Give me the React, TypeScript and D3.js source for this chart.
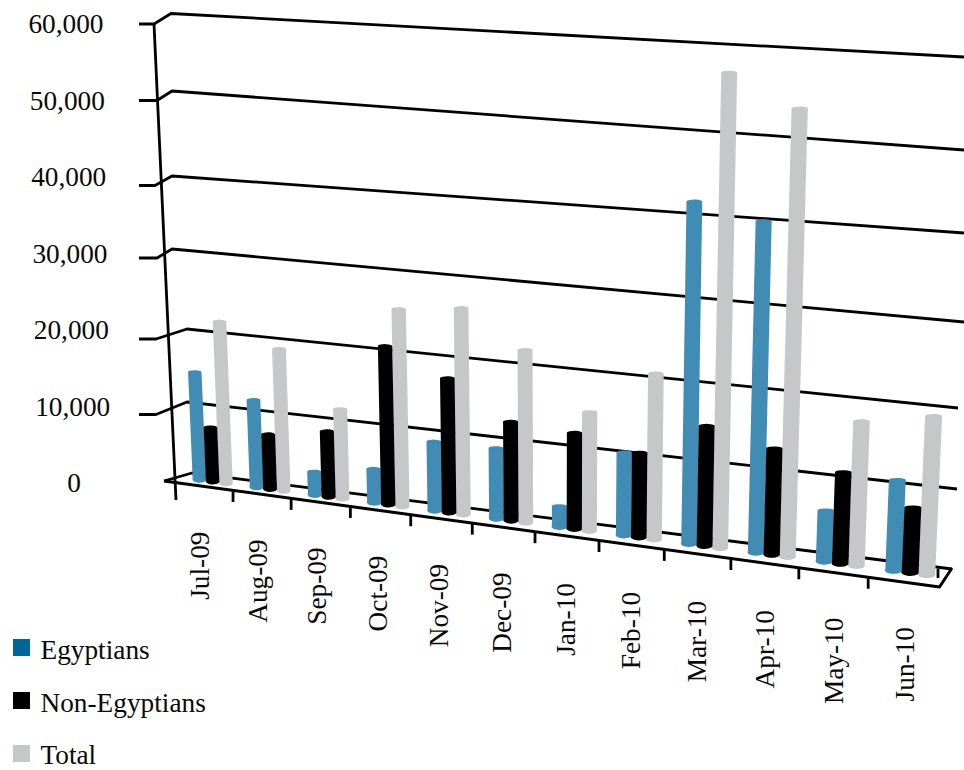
import React from "react";
import * as d3 from "d3";

const categories = ["Jul-09","Aug-09","Sep-09","Oct-09","Nov-09","Dec-09","Jan-10","Feb-10","Mar-10","Apr-10","May-10","Jun-10"];
const egyptians = [14900,12000,3100,4500,9200,9300,2600,10700,42200,40500,6300,11200];
const nonEgyptians = [7500,7500,8900,21100,17800,13000,12500,10900,15300,13400,11400,8000];
const total = [22000,19300,12100,25800,26700,22400,15400,21200,57500,54000,18000,19600];
const yTicks = [0,10000,20000,30000,40000,50000,60000];
const seriesNames = ["Egyptians","Non-Egyptians","Total"];
const barColors = ["#418cb4","#000000","#c6c7c9"];
const legendColors = ["#00669a","#000000","#c6c7c9"];

const W = 964, H = 770;
const FONT = "'Liberation Serif','Times New Roman',serif";

// Perspective geometry of the chart box
const frontLine = { x0: 164, y0: 481, x1: 939.5, y1: 587 };
const backLine = { x0: 192, y0: 473, x1: 952, y1: 569 };
const wallLeftX = [192,187,187,172,172,172,171];
const wallLeftY = [473,402,329,249,176,91,13.5];
const wallRightX = [952,957,958,964,964,964,964];
const wallRightY = [569,489,408,322,233,150,57];
const outerTickY = [481,414.5,339,258,185.5,100.5,24];
const outerTickEnd = [164,156,156,157,155,157,154];

const frontX = (u: number) => (54.87 * u + 176) / (1 - 0.00928 * u);
const lerpY = (l: {x0:number;y0:number;x1:number;y1:number}, x: number) =>
  l.y0 + ((l.y1 - l.y0) * (x - l.x0)) / (l.x1 - l.x0);
const frontY = (x: number) => lerpY(frontLine, x);
const backX = d3.scaleLinear().domain([176, 939]).range([192, 952]);
const backY = (x: number) => lerpY(backLine, x);
const DEPTH = 0.55;
const floor = (u: number) => {
  const fx = frontX(u), bx = backX(fx);
  return { x: fx + (bx - fx) * DEPTH, y: frontY(fx) + (backY(bx) - frontY(fx)) * DEPTH };
};
const leftHeight = d3.scaleLinear().domain(yTicks).range(wallLeftY.map((y) => wallLeftY[0] - y));
const rightHeight = d3.scaleLinear().domain(yTicks).range(wallRightY.map((y) => 570.5 - y));
const barHeight = (v: number, x: number) => {
  const t = (x - 180) / 780;
  return leftHeight(v) + (rightHeight(v) - leftHeight(v)) * t;
};
const lean = (x: number) => (x - 560) * 0.000119;

const band = d3.scaleBand<number>().domain([0,1,2]).range([0.15,0.85]).paddingInner(0);
const labelX = d3.scaleLinear().domain([0,6]).range([66,74]);
const labelY = d3.scaleLinear().domain([60000,0]).range([33,492]);
const line = d3.line();

const barPath = (i: number, s: number, v: number) => {
  const u0 = i + band(s)!;
  const u1 = u0 + band.bandwidth();
  const a = floor(u0), b = floor(u1);
  const cx = (a.x + b.x) / 2 - 0.5, cy = (a.y + b.y) / 2;
  const w = (b.x - a.x) * 1.02;
  const h = barHeight(v, cx);
  const tx = cx + lean(cx) * h, ty = cy - h;
  const rx = w / 2;
  const slope = (b.y - a.y) / (b.x - a.x);
  const dy = (slope * w) / 2;
  return `M${cx - rx},${cy - dy} L${tx - rx},${ty - dy * 0.3} A${rx},2 0 0 1 ${tx + rx},${ty + dy * 0.3} L${cx + rx},${cy + dy} A${rx},3.4 0 0 1 ${cx - rx},${cy - dy} Z`;
};

const seriesData = [egyptians, nonEgyptians, total];
const drawOrder = [0, 2, 1];

export default function App() {
  const tickUs = d3.range(0, 12);
  return (
    <svg width={W} height={H} viewBox={`0 0 ${W} ${H}`} style={{ position: "absolute", left: 0, top: 0, display: "block", background: "#fff" }}>
      <g fill="none" stroke="#000" strokeWidth={2.8} strokeLinejoin="round">
        {yTicks.map((t, k) => {
          const pts: [number, number][] = k === 0
            ? [[outerTickEnd[k], outerTickY[k]], [wallLeftX[k], wallLeftY[k]], [wallRightX[k], wallRightY[k]]]
            : [[139, outerTickY[k]], [outerTickEnd[k], outerTickY[k]], [wallLeftX[k], wallLeftY[k]], [wallRightX[k], wallRightY[k]]];
          return <path key={t} d={line(pts)!} />;
        })}
        <path d={line([[154, 24], [176, 500]])!} />
        <path d={line([[frontLine.x0, frontLine.y0], [frontLine.x1, frontLine.y1], [952, 568]])!} strokeWidth={3} />
        {tickUs.map((u) => {
          const x = frontX(u);
          return u === 0 ? null : <path key={u} d={line([[x, frontY(x)], [x, frontY(x) + 11.5]])!} />;
        })}
        <path d={line([[938, 569], [938, 578]])!} />
      </g>
      {categories.map((c, i) =>
        drawOrder.map((s) => <path key={c + s} d={barPath(i, s, seriesData[s][i])} fill={barColors[s]} />)
      )}
      <g fontFamily={FONT} fontSize={27.3} fill="#0a0a0a">
        {yTicks.map((t, k) => (
          <text key={t} x={labelX(6 - k)} y={labelY(t)} textAnchor="middle">{d3.format(",")(t)}</text>
        ))}
        {categories.map((c, i) => {
          const cx = frontX(i + 0.5);
          const x = cx + 4.5 + i * 0.55;
          const y = frontY(cx) + 45 + (i > 5 && i < 10 ? 2 : 0);
          return <text key={c} transform={`translate(${x},${y}) rotate(-90)`} textAnchor="end">{c}</text>;
        })}
        {seriesNames.map((n, i) => (
          <g key={n}>
            <rect x={13} y={639 + i * 53} width={17} height={17} fill={legendColors[i]} />
            <text x={40.5} y={659 + i * 52.5}>{n}</text>
          </g>
        ))}
      </g>
    </svg>
  );
}
